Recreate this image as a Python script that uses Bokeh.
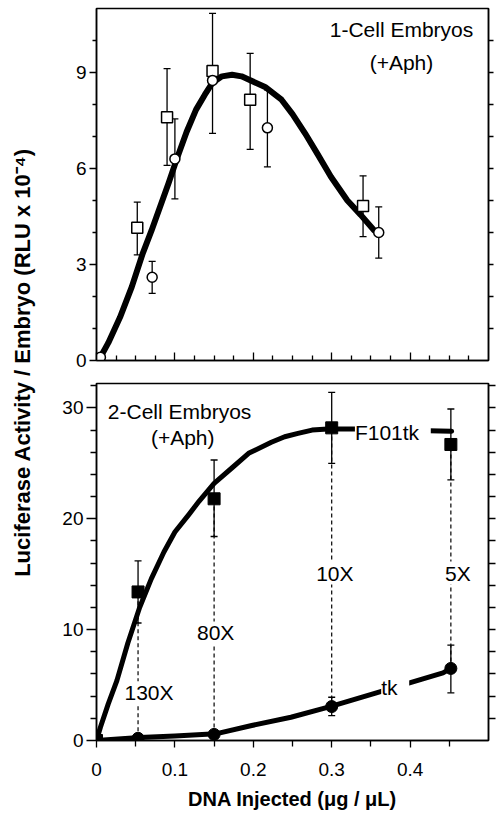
import math
from bokeh.plotting import figure
from bokeh.models import (ColumnDataSource, Whisker, TeeHead, LinearAxis, FixedTicker,
                          Range1d, LabelSet, Label, CustomLabelingPolicy)
from bokeh.layouts import row, column
from bokeh.core.properties import value
from bokeh.embed import file_html
from bokeh.resources import INLINE

FONT = "Liberation Sans"

# ---------------- data: top panel (1-cell embryos) ----------------
top_sq_x = [0.0, 0.052, 0.090, 0.148, 0.196, 0.340]
top_sq_y = [0.0, 4.15, 7.60, 9.05, 8.15, 4.83]
top_sq_lo = [0.0, 3.30, 6.10, 7.10, 6.60, 3.87]
top_sq_hi = [0.0, 4.95, 9.12, 10.85, 9.60, 5.77]

top_ci_x = [0.005, 0.071, 0.100, 0.148, 0.218, 0.360]
top_ci_y = [0.10, 2.60, 6.30, 8.75, 7.27, 4.00]
top_ci_lo = [0.10, 2.10, 5.05, 8.75, 6.05, 3.20]
top_ci_hi = [0.10, 3.10, 7.55, 8.75, 8.46, 4.80]

fit1_x = [0.005, 0.015, 0.030, 0.045, 0.059, 0.070, 0.081, 0.092, 0.102, 0.115, 0.127,
          0.138, 0.148, 0.160, 0.173, 0.185, 0.194, 0.215, 0.236, 0.250, 0.266,
          0.282, 0.299, 0.320, 0.337, 0.354]
fit1_y = [0.10, 0.55, 1.35, 2.30, 3.35, 4.05, 4.80, 5.55, 6.27, 7.15, 7.84,
          8.30, 8.68, 8.88, 8.93, 8.88, 8.78, 8.55, 8.15, 7.70, 7.10,
          6.45, 5.74, 5.00, 4.55, 4.07]

top_lab_text = ["1-Cell Embryos", "(+Aph)"]
top_lab_x = [0.389, 0.389]
top_lab_y = [10.35, 9.30]

# ---------------- data: bottom panel (2-cell embryos) ----------------
dose_x = [0.0, 0.053, 0.150, 0.300, 0.452]
f101_y = [0.0, 13.4, 21.8, 28.2, 26.7]
f101_lo = [0.0, 10.6, 18.4, 25.0, 23.5]
f101_hi = [0.0, 16.2, 25.3, 31.4, 29.9]
tk_y = [0.0, 0.20, 0.55, 3.06, 6.50]
tk_lo = [0.0, 0.20, 0.55, 2.25, 4.30]
tk_hi = [0.0, 0.20, 0.55, 3.90, 8.60]

fitF_x = [0.0, 0.005, 0.015, 0.026, 0.040, 0.055, 0.070, 0.086, 0.100, 0.118, 0.131,
          0.150, 0.173, 0.194, 0.223, 0.240, 0.257, 0.275, 0.295, 0.330, 0.380, 0.453]
fitF_y = [0.0, 1.2, 3.3, 5.4, 8.8, 12.0, 14.6, 17.0, 18.8, 20.4, 21.6,
          23.2, 24.6, 25.9, 26.9, 27.4, 27.7, 28.0, 28.1, 28.1, 28.0, 27.9]

fitT_x = [0.0, 0.055, 0.100, 0.152, 0.198, 0.248, 0.298, 0.357, 0.395, 0.442, 0.452]
fitT_y = [0.0, 0.27, 0.40, 0.60, 1.35, 2.10, 3.06, 4.30, 5.10, 6.10, 6.50]

fold_text = ["130X", "80X", "10X", "5X"]
fold_x = [0.067, 0.152, 0.304, 0.461]
fold_y = [4.3, 9.7, 15.1, 15.1]

series_text = [" F101tk ", " tk "]
series_x = [0.378, 0.381]
series_y = [27.8, 4.8]

bot_lab_text = ["2-Cell Embryos", "(+Aph)"]
bot_lab_x = [0.106, 0.110]
bot_lab_y = [29.7, 27.3]

x_major = [0.0, 0.1, 0.2, 0.3, 0.4]
x_minor_top = [0.025, 0.05, 0.075, 0.125, 0.15, 0.175, 0.225, 0.25, 0.275, 0.325, 0.35, 0.375,
               0.425, 0.45, 0.475]
x_minor_bot = [0.05, 0.15, 0.25, 0.35, 0.45]
y1_major = [0, 3, 6, 9]
y1_minor = [1, 2, 4, 5, 7, 8, 10]
y1_right = [1, 2, 3, 4, 5, 6, 7, 8, 9, 10]
y2_major = [0, 10, 20, 30]
y2_minor = [2, 4, 6, 8, 12, 14, 16, 18, 22, 24, 26, 28, 32]
y2_right = [2, 4, 6, 8, 10, 12, 14, 16, 18, 20, 22, 24, 26, 28, 30, 32]

Y_TITLE = "Luciferase Activity / Embryo (RLU x 10\u207b\u2074)"
X_TITLE = "DNA Injected (\u03bcg / \u03bcL)"

HIDE_ALL = "for (const i of indices) { indices.unset(i) }\nreturn indices"


def make_axis(major, minor, t_in, t_out, m_in, m_out, labels, standoff=3):
    ax = LinearAxis(ticker=FixedTicker(ticks=major, minor_ticks=minor))
    ax.major_tick_in = t_in
    ax.major_tick_out = t_out
    ax.minor_tick_in = m_in
    ax.minor_tick_out = m_out
    ax.axis_line_color = "black"
    ax.axis_line_width = 1.5
    ax.major_tick_line_color = "black"
    ax.major_tick_line_width = 1.3
    ax.minor_tick_line_color = "black"
    ax.minor_tick_line_width = 1.3
    if labels:
        ax.major_label_text_font = FONT
        ax.major_label_text_font_size = "19px"
        ax.major_label_text_color = "black"
        ax.major_label_standoff = standoff
    else:
        ax.major_label_text_font_size = "1px"
        ax.major_label_standoff = 0
        ax.major_label_policy = CustomLabelingPolicy(code=HIDE_ALL)
    return ax


def base_fig(yr, height, top, bottom):
    p = figure(x_range=Range1d(0, 0.5), y_range=yr, width=451, height=height,
               output_backend="svg", toolbar_location=None,
               x_axis_location=None, y_axis_location=None,
               min_border_left=48, min_border_right=6,
               min_border_top=top, min_border_bottom=bottom)
    p.xgrid.visible = False
    p.ygrid.visible = False
    p.outline_line_color = "black"
    p.outline_line_width = 1.5
    p.background_fill_color = "white"
    p.border_fill_color = "white"
    return p


def whiskers(p, x, lo, hi, size=7):
    src = ColumnDataSource(dict(x=x, lo=lo, hi=hi))
    w = Whisker(source=src, base="x", lower="lo", upper="hi", dimension="height",
                line_color="black", line_width=1.3,
                upper_head=TeeHead(size=size, line_width=1.3, line_color="black"),
                lower_head=TeeHead(size=size, line_width=1.3, line_color="black"))
    p.add_layout(w)


# ---------------- top panel ----------------
p1 = base_fig(Range1d(0, 11), 372, 8, 12)
p1.add_layout(make_axis(y1_major, y1_minor, 0, 7, 0, 4, True, 3), "left")
p1.add_layout(make_axis(y1_right, [], 0, 5, 0, 5, False), "right")
p1.add_layout(make_axis(x_major, x_minor_top, 8, 0, 5, 0, False), "below")

whiskers(p1, top_sq_x, top_sq_lo, top_sq_hi)
whiskers(p1, top_ci_x, top_ci_lo, top_ci_hi)
p1.line(fit1_x, fit1_y, line_width=6, line_color="black", line_cap="round", line_join="round")
p1.scatter(top_sq_x, top_sq_y, marker="square", size=11, fill_color="white",
           line_color="black", line_width=1.5)
p1.scatter(top_ci_x, top_ci_y, marker="circle", size=10, fill_color="white",
           line_color="black", line_width=1.5)
p1.add_layout(LabelSet(x="x", y="y", text="t",
                       source=ColumnDataSource(dict(x=top_lab_x, y=top_lab_y, t=top_lab_text)),
                       text_align="center", text_baseline="middle",
                       text_font=value(FONT), text_font_size="21px", text_color="black"))

# ---------------- bottom panel ----------------
p2 = base_fig(Range1d(0, 32.2), 443, 11, 75)
p2.add_layout(make_axis(y2_major, y2_minor, 0, 10, 0, 6, True, 3), "left")
p2.add_layout(make_axis(y2_right, [], 0, 7, 0, 7, False), "right")
xb = make_axis(x_major, x_minor_bot, 0, 7, 0, 6, True, 15)
xb.axis_label = X_TITLE
xb.axis_label_text_font = FONT
xb.axis_label_text_font_size = "20px"
xb.axis_label_text_font_style = "bold"
xb.axis_label_text_color = "black"
xb.axis_label_standoff = 9
p2.add_layout(xb, "below")

p2.segment(x0=dose_x[1:], y0=tk_y[1:], x1=dose_x[1:], y1=f101_y[1:],
           line_color="black", line_width=1.2, line_dash="4 3")
whiskers(p2, dose_x, f101_lo, f101_hi)
whiskers(p2, dose_x, tk_lo, tk_hi)
p2.line(fitF_x, fitF_y, line_width=5, line_color="black", line_cap="round", line_join="round")
p2.line(fitT_x, fitT_y, line_width=5, line_color="black", line_cap="round", line_join="round")
p2.scatter(dose_x, f101_y, marker="square", size=12, fill_color="black", line_color="black")
p2.scatter(dose_x, tk_y, marker="circle", size=12, fill_color="black", line_color="black")

p2.add_layout(LabelSet(x="x", y="y", text="t",
                       source=ColumnDataSource(dict(x=fold_x + series_x, y=fold_y + series_y,
                                                    t=fold_text + series_text)),
                       text_align="center", text_baseline="middle",
                       text_font=value(FONT), text_font_size="21px", text_color="black",
                       background_fill_color="white"))
p2.add_layout(LabelSet(x="x", y="y", text="t",
                       source=ColumnDataSource(dict(x=bot_lab_x, y=bot_lab_y, t=bot_lab_text)),
                       text_align="center", text_baseline="middle",
                       text_font=value(FONT), text_font_size="21px", text_color="black"))

# ---------------- shared y title ----------------
pt = figure(x_range=Range1d(0, 48), y_range=Range1d(0, 815), width=48, height=815,
            output_backend="svg", toolbar_location=None,
            x_axis_location=None, y_axis_location=None,
            min_border_left=0, min_border_right=0, min_border_top=0, min_border_bottom=0)
pt.xgrid.visible = False
pt.ygrid.visible = False
pt.outline_line_color = None
pt.add_layout(Label(x=22, y=453, text=Y_TITLE, angle=math.pi / 2,
                    text_align="center", text_baseline="middle",
                    text_font=FONT, text_font_size="22px", text_font_style="bold",
                    text_color="black"))

layout = row(pt, column(p1, p2))
open("out.html", "w").write(file_html(layout, INLINE))
